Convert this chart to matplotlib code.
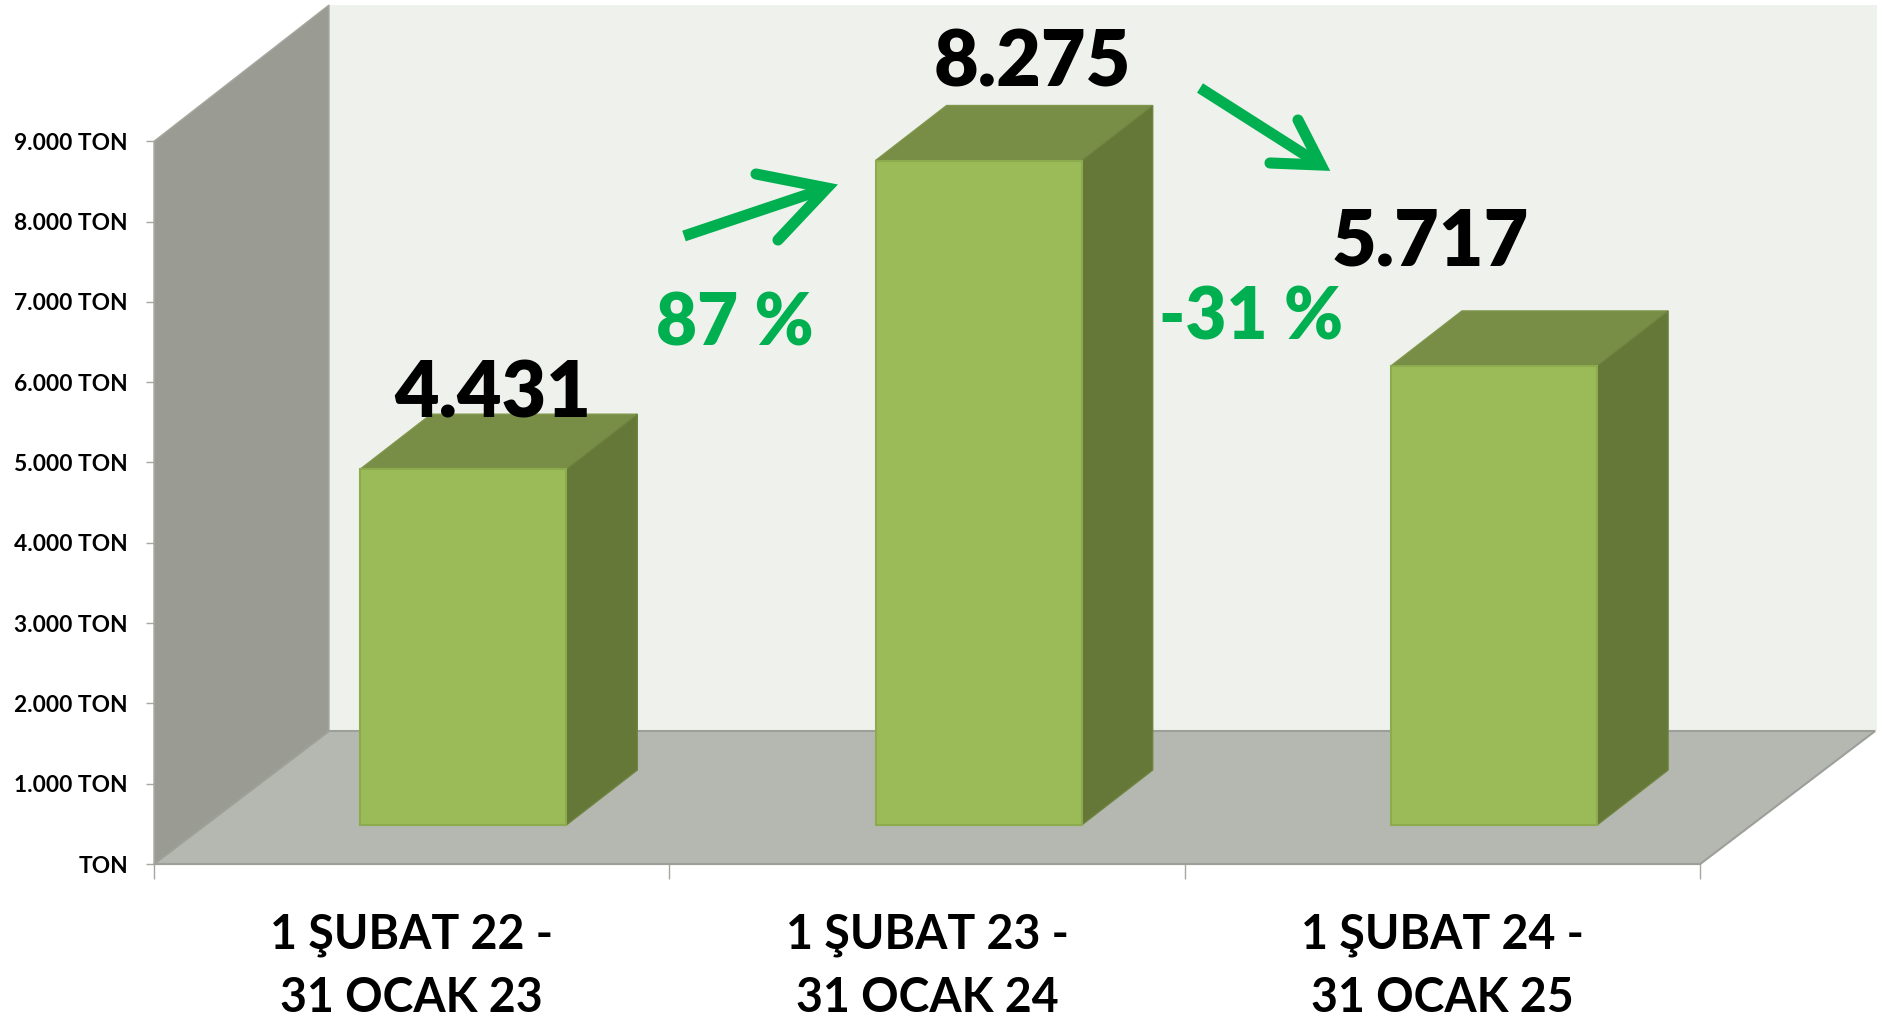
# 3D style column chart, tonnage per period

import matplotlib
matplotlib.use('Agg')
import matplotlib.pyplot as plt
from matplotlib.patches import Polygon

plt.rcParams['font.family'] = ['Lato', 'DejaVu Sans']
plt.rcParams['font.weight'] = 'bold'

W, H = 1877, 1021

periods = ['1 ŞUBAT 22 -\n31 OCAK 23', '1 ŞUBAT 23 -\n31 OCAK 24', '1 ŞUBAT 24 -\n31 OCAK 25']
tons = [4431, 8275, 5717]
value_labels = ['4.431', '8.275', '5.717']
y_ticks = [0, 1000, 2000, 3000, 4000, 5000, 6000, 7000, 8000, 9000]
y_tick_labels = ['TON', '1.000 TON', '2.000 TON', '3.000 TON', '4.000 TON', '5.000 TON',
                 '6.000 TON', '7.000 TON', '8.000 TON', '9.000 TON']

# Scale of the front plane of the chart, in pixels
x0_px, y0_px = 154, 864
px_per_cat = 515.4
px_per_ton = 0.0803


def x_px(p):
    return (p - x0_px) / px_per_cat


def y_px(p):
    return (y0_px - p) / px_per_ton


fig = plt.figure(figsize=(W / 100, H / 100), dpi=100, facecolor='white')
ax = fig.add_axes([0, 0, 1, 1])
ax.set_xlim(x_px(0), x_px(W))
ax.set_ylim(y_px(H), y_px(0))
ax.set_facecolor('white')

# Walls and floor
depth_x = 175 / px_per_cat
depth_y = 133 / px_per_ton
top = y_ticks[-1]
wall_top = y_px(5)
n = len(periods)

ax.add_patch(Polygon([(depth_x, depth_y), (x_px(W), depth_y), (x_px(W), wall_top), (depth_x, wall_top)],
                     facecolor='#eff2ec', edgecolor='none', zorder=1))
ax.add_patch(Polygon([(0, 0), (depth_x, depth_y), (depth_x, wall_top), (0, top)],
                     facecolor='#9a9c94', edgecolor='#a6a8a0', linewidth=1, zorder=2))
ax.add_patch(Polygon([(0, 0), (n, 0), (n + depth_x, depth_y), (depth_x, depth_y)],
                     facecolor='#b5b8b0', edgecolor='#9d9f99', linewidth=1.5, zorder=2))

# Bars
bar_w = 0.4
bar_base = 39 / px_per_ton
bar_dx = 71 / px_per_cat
bar_dy = 55 / px_per_ton

for i in range(n):

    left = i + 0.6 - bar_w / 2
    right = left + bar_w
    high = bar_base + tons[i]

    ax.add_patch(Polygon([(left, high), (right, high), (right + bar_dx, high + bar_dy), (left + bar_dx, high + bar_dy)],
                         facecolor='#788d45', edgecolor='#80964a', linewidth=1, zorder=3))
    ax.add_patch(Polygon([(right, bar_base), (right + bar_dx, bar_base + bar_dy), (right + bar_dx, high + bar_dy), (right, high)],
                         facecolor='#657838', edgecolor='#6f8440', linewidth=1, zorder=3))
    ax.bar(i + 0.6, tons[i], width=bar_w, bottom=bar_base, color='#9bbb59', edgecolor='#8cab4e', linewidth=1.5, zorder=4)

# Axes
for side in ['top', 'right']:
    ax.spines[side].set_visible(False)
ax.spines['left'].set_position(('data', 0))
ax.spines['bottom'].set_position(('data', 0))
ax.spines['left'].set_bounds(0, top)
ax.spines['bottom'].set_bounds(0, n)
ax.spines['left'].set_color('#a6a8a0')
ax.spines['bottom'].set_color('#9d9f99')
ax.spines['left'].set_zorder(2)
ax.spines['bottom'].set_zorder(2)

ax.set_yticks(y_ticks)
ax.set_yticklabels(y_tick_labels)
ax.tick_params(axis='y', length=5.8, width=1, color='#a6a8a0', pad=13, labelsize=16.4, labelcolor='black')

ax.set_xticks(range(n + 1))
ax.set_xticklabels([''] * (n + 1))
ax.tick_params(axis='x', length=11, width=1, color='#a6a8a0')

ax.set_xticks([i + 0.5 for i in range(n)], minor=True)
ax.set_xticklabels(periods, minor=True, fontsize=33.5, linespacing=1.53, color='black')
ax.tick_params(axis='x', which='minor', length=0, pad=35.5)

# Value labels
label_pos = [(493, 388), (1032, 58), (1430, 236)]

for i in range(n):
    ax.text(x_px(label_pos[i][0]), y_px(label_pos[i][1]), value_labels[i], fontsize=55.5, fontweight=800,
            ha='center', va='center_baseline', color='black', zorder=6)

# Change labels and arrows
green = '#00b050'
ax.text(x_px(735), y_px(318), '87 %', fontsize=51, fontweight=800, ha='center', va='center_baseline', color=green, zorder=6)
ax.text(x_px(1251), y_px(312), '-31 %', fontsize=51, fontweight=800, ha='center', va='center_baseline', color=green, zorder=6)

arrows = [
    {'start': (684, 236), 'tip': (827, 188), 'barbs': [(756, 174), (778, 240)]},
    {'start': (1200, 88), 'tip': (1321, 165), 'barbs': [(1298, 120), (1270, 163)]},
]

for a in arrows:
    ax.plot([x_px(a['start'][0]), x_px(a['tip'][0])], [y_px(a['start'][1]), y_px(a['tip'][1])],
            color=green, linewidth=8, solid_capstyle='butt', zorder=6)
    xs = [x_px(a['barbs'][0][0]), x_px(a['tip'][0]), x_px(a['barbs'][1][0])]
    ys = [y_px(a['barbs'][0][1]), y_px(a['tip'][1]), y_px(a['barbs'][1][1])]
    ax.plot(xs, ys, color=green, linewidth=8, solid_capstyle='round', solid_joinstyle='miter', zorder=6)

fig.savefig('out.png', dpi=100)
